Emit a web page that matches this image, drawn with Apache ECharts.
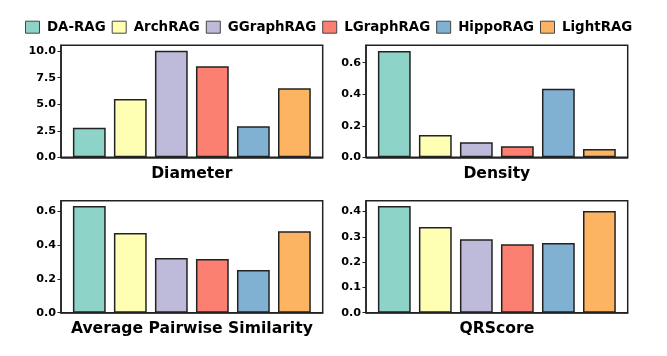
<!DOCTYPE html>
<html>
<head>
<meta charset="utf-8">
<script src="https://cdn.jsdelivr.net/npm/echarts@6/dist/echarts.min.js"></script>
<style>
html,body{margin:0;padding:0;background:#fff;}
#c{width:667px;height:356px;}
</style>
</head>
<body>
<div id="c"></div>
<script>
const methods = ['DA-RAG', 'ArchRAG', 'GGraphRAG', 'LGraphRAG', 'HippoRAG', 'LightRAG'];
const colors = ['#8dd3c7', '#ffffb3', '#bebada', '#fb8072', '#80b1d3', '#fdb462'];
const panelTitles = ['Diameter', 'Density', 'Average Pairwise Similarity', 'QRScore'];
const diameter = [2.78, 5.48, 10.03, 8.58, 2.93, 6.5];
const density = [0.674, 0.141, 0.095, 0.070, 0.435, 0.053];
const avgPairwiseSimilarity = [0.629, 0.470, 0.322, 0.316, 0.251, 0.480];
const qrScore = [0.422, 0.339, 0.291, 0.271, 0.276, 0.402];
const panelValues = [diameter, density, avgPairwiseSimilarity, qrScore];
const yMax = [10.55, 0.71, 0.66, 0.443];
const yInterval = [2.5, 0.2, 0.2, 0.1];

const FONT = 'DejaVu Sans';
const EDGE = '#222222';
const grids = [
  {left: 61, top: 45.3, width: 261.7, height: 112},
  {left: 366, top: 45.3, width: 261.7, height: 112},
  {left: 61, top: 200.7, width: 261.7, height: 112},
  {left: 366, top: 200.7, width: 261.7, height: 112}
];

const chart = echarts.init(document.getElementById('c'), null, {renderer: 'canvas'});

const option = {
  animation: false,
  backgroundColor: '#ffffff',
  legend: {
    left: 25,
    top: 20.7,
    padding: 0,
    icon: 'rect',
    itemWidth: 14,
    itemHeight: 12,
    itemGap: 6,
    data: methods,
    itemStyle: {borderColor: '#444', borderWidth: 1},
    textStyle: {fontFamily: FONT, fontWeight: 'bold', fontSize: 13.4, color: '#000', padding: [0, 0, 0, 2.5]}
  },
  grid: grids.map(g => Object.assign({show: true, borderColor: EDGE, borderWidth: 1.5, backgroundColor: 'transparent'}, g)),
  xAxis: grids.map((g, i) => ({
    type: 'value', gridIndex: i, min: -0.69, max: 5.69,
    axisLabel: {show: false}, axisTick: {show: false}, splitLine: {show: false},
    axisLine: {show: true, onZero: false, lineStyle: {color: EDGE, width: 1.5}}, z: 5
  })),
  yAxis: grids.map((g, i) => ({
    type: 'value', gridIndex: i, min: 0, max: yMax[i], interval: yInterval[i],
    splitLine: {show: false},
    axisLine: {show: true, onZero: false, lineStyle: {color: EDGE, width: 1.5}},
    axisTick: {show: true, length: 3.5, lineStyle: {color: EDGE, width: 1}},
    axisLabel: {
      showMaxLabel: false, margin: 5,
      fontFamily: FONT, fontWeight: 'bold', fontSize: 11.2, color: '#000',
      formatter: v => v.toFixed(1)
    }, z: 5
  })),
  graphic: panelTitles.map((t, i) => ({
    type: 'text',
    x: grids[i].left + grids[i].width / 2,
    y: i < 2 ? 174 : 329,
    style: {text: t, fontFamily: FONT, fontWeight: 'bold', fontSize: 15.6, fill: '#000',
            textAlign: 'center', textVerticalAlign: 'middle'}
  })),
  series: []
};

panelValues.forEach((vals, p) => {
  methods.forEach((m, k) => {
    option.series.push({
      type: 'bar', name: m, xAxisIndex: p, yAxisIndex: p,
      barWidth: 32.8, barGap: '-100%',
      itemStyle: {color: colors[k], borderColor: EDGE, borderWidth: 1.5},
      data: [[k, vals[k]]]
    });
  });
});

chart.setOption(option);
</script>
</body>
</html>
